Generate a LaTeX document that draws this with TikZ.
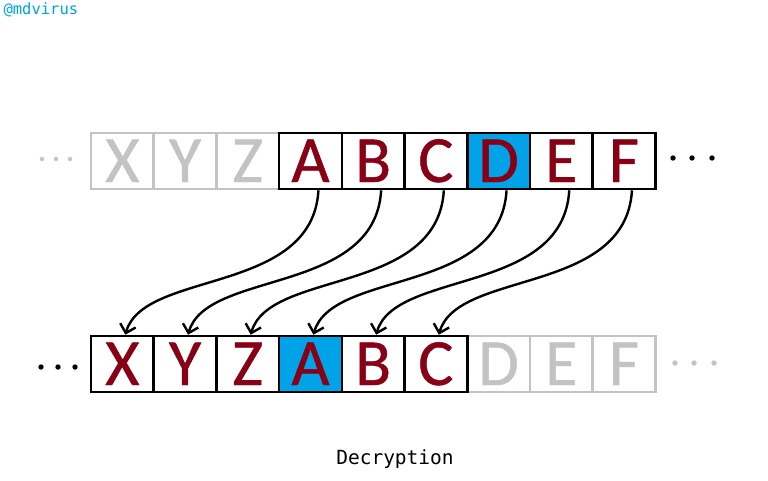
\documentclass[tikz,border=0pt]{standalone}
\usepackage{fontspec}
\setmainfont{Carlito}
\setmonofont{DejaVu Sans Mono}
\newfontfamily\cellfont{Carlito}[FakeBold=0.7]
\usetikzlibrary{arrows.meta}
\definecolor{letterred}{RGB}{136,0,21}
\definecolor{cellblue}{RGB}{0,162,232}
\definecolor{fadegray}{RGB}{195,195,195}

\begin{document}
\begin{tikzpicture}[x=1pt, y=-1pt, >={Straight Barb[length=8pt,width=16pt]}]
\tikzstyle{cell} = [draw, rectangle, line width=2.6pt, minimum width=62.7pt, minimum height=56pt,
    inner sep=0pt, text height=42pt, text depth=0pt, font=\cellfont\fontsize{66}{66}\selectfont]
\tikzstyle{shown} = [cell, text=letterred]
\tikzstyle{faded} = [cell, draw=fadegray, text=fadegray]
\tikzstyle{shiftline} = [->, line width=2.4pt]

\useasboundingbox (0,0) rectangle (768,480);

    % gray cells first, so that the black frame lies on top
    \foreach \l [count=\i from 0] in {X,Y,Z}
        \node [faded] (t\l) at ({122.35+62.7*\i},161) {\l};
    \foreach \l [count=\i from 6] in {D,E,F}
        \node [faded] (b\l) at ({122.35+62.7*\i},364) {\l};

    \foreach \l/\f [count=\i from 3] in {A/white,B/white,C/white,D/cellblue,E/white,F/white}
        \node [shown, fill=\f] (t\l) at ({122.35+62.7*\i},161) {\l};
    \foreach \l/\f [count=\i from 0] in {X/white,Y/white,Z/white,A/cellblue,B/white,C/white}
        \node [shown, fill=\f] (b\l) at ({122.35+62.7*\i},364) {\l};

    % dots
    \foreach \x in {42,56,70} \fill[fadegray] (\x,159) circle (2.2pt);
    \foreach \x in {673,692,712} \fill (\x,158) circle (2.7pt);
    \foreach \x in {41,58,75} \fill (\x,367) circle (2.7pt);
    \foreach \x in {675,694,714} \fill[fadegray] (\x,363) circle (2.7pt);

    % shift by three
    \foreach \s/\e in {A/X,B/Y,C/Z,D/A,E/B,F/C}
        \draw [shiftline] ([xshift=8pt]t\s.south) .. controls +(-6,105) and +(18,-65) .. ([xshift=3pt]b\e.north);

    \node [anchor=west, text=cellblue, font=\ttfamily\fontsize{15.5}{15.5}\selectfont] (tag) at (0,10) {@mdvirus};
    \node [font=\ttfamily\fontsize{19.5}{19.5}\selectfont] (caption) at (395,459) {Decryption};

\end{tikzpicture}
\end{document}
